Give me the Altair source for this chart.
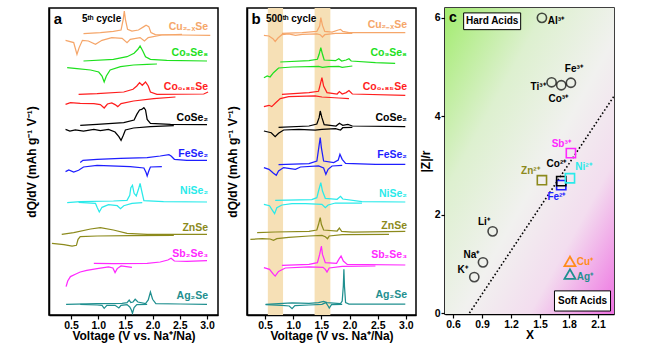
import altair as alt
import pandas as pd

FONT = "Liberation Sans"

# ---------------- panels a / b : dQ/dV curves ----------------
MATERIALS = ["Cu2-xSe", "Co9Se8", "Co0.85Se", "CoSe2", "FeSe2", "NiSe2", "ZnSe", "Sb2Se3", "Ag2Se"]
LABELS = ["Cu₂₋ₓSe", "Co₉Se₈", "Co₀.₈₅Se", "CoSe₂", "FeSe₂", "NiSe₂", "ZnSe", "Sb₂Se₃", "Ag₂Se"]
COLORS = ["#F5A66A", "#1EE01E", "#FF1E1E", "#000000", "#1E1EFF", "#2AEAEA", "#8C8A1C", "#FF28FF", "#1F8F8F"]
A_OFFSETS = [279.7, 254, 220.7, 190.3, 154.7, 113, 80.7, 51.7, 10.7]
B_OFFSETS = [282.3, 253, 220.7, 189, 150.7, 114, 83, 50.3, 10.7]
A_LABEL_DY = [8.3, 8, 7.3, 6.7, 6.3, 11, 6.3, 9.3, 8.3]
B_LABEL_DY = [7.7, 8.7, 7.6, 8.3, 9, 6.7, 6, 9.7, 9]
BANDS_LO = [0.55, 1.38]
BANDS_HI = [0.82, 1.66]
X_TICKS_AB = [0.5, 1.0, 1.5, 2.0, 2.5, 3.0]

# 5th cycle (voltage, dQ/dV relative to baseline)
a_cu_chg = [(0.73,1.7),(1.04,2.7),(1.28,4),(1.42,5.3),(1.46,16),(1.48,24.3),(1.50,16),(1.54,6),(1.62,4.3),(1.74,5.3),(1.84,8.7),(1.88,10),(1.93,8.7),(1.97,2.7),(2.05,0.7),(2.51,0.3),(3.06,0)]
a_cu_dis = [(0.40,-5),(0.55,-7.3),(0.61,-19),(0.65,-12.3),(0.71,-5),(0.82,-5.7),(0.95,-9),(1.07,-5),(1.25,-2.3),(1.44,-3),(1.53,-7.3),(1.59,-4),(1.77,-2.3),(1.85,-5.7),(1.92,-2.3),(2.17,0.3),(2.54,1)]
a_co9_chg = [(0.73,0),(1.28,1.7),(1.53,4.3),(1.66,7.7),(1.73,11.7),(1.77,15),(1.82,10),(1.87,4.3),(1.96,1.7),(2.26,0.7),(3.00,0)]
a_co9_dis = [(0.43,-6.7),(0.61,-7.7),(0.86,-9),(1.01,-11),(1.07,-15),(1.11,-21),(1.15,-15),(1.22,-9),(1.41,-5.7),(1.65,-4),(1.90,-3.3),(2.08,-3)]
a_co085_chg = [(0.64,0),(0.98,0.7),(1.47,2.3),(1.64,5),(1.71,8.3),(1.76,11.7),(1.81,9),(1.87,12.3),(1.92,8.3),(1.96,2.3),(2.08,0),(2.94,0.3),(3.02,2.3)]
a_co085_dis = [(0.40,-10),(0.49,-8.3),(0.67,-9),(0.92,-9.3),(1.04,-10.3),(1.11,-13.7),(1.17,-9.7),(1.25,-8.7),(1.31,-10.3),(1.36,-12.3),(1.42,-9.3),(1.65,-6.7),(2.02,-4.3),(2.42,-2.7)]
a_cose2_chg = [(0.67,-0.7),(0.98,0.3),(1.47,2),(1.66,4.7),(1.71,10.3),(1.76,14.7),(1.80,15.3),(1.84,17),(1.87,14.7),(1.90,5.3),(1.96,1.3),(2.33,0.3),(3.00,0)]
a_cose2_dis = [(0.40,-4.7),(0.48,-6.3),(0.58,-5.3),(0.73,-6.3),(0.92,-4.7),(1.04,-6),(1.19,-4.7),(1.31,-7.3),(1.38,-12),(1.42,-15.7),(1.46,-10.7),(1.50,-5.3),(1.65,-3.3),(1.96,-2),(2.39,-1)]
a_fese2_chg = [(0.67,-2.3),(0.72,0),(0.98,1),(1.41,2),(1.90,2.7),(2.14,4.3),(2.30,5.7),(2.34,4.3),(2.40,1),(2.63,0),(3.00,0)]
a_fese2_dis = [(0.40,-11.3),(0.46,-9.7),(0.55,-11.7),(0.64,-10),(0.73,-6.7),(0.98,-5),(1.59,-6.3),(1.84,-7.7),(1.88,-12.3),(1.90,-15.7),(1.93,-10.7),(1.96,-6.7),(2.17,-6.3)]
a_nise2_chg = [(0.43,-0.7),(0.67,0.3),(1.28,1),(1.53,1.7),(1.58,6.7),(1.60,14.3),(1.63,16.7),(1.66,8.7),(1.70,6),(1.74,12.7),(1.77,18.7),(1.80,11),(1.84,1.3),(2.20,0.3),(3.00,0)]
a_nise2_dis = [(0.64,-0.3),(0.95,-1.3),(0.98,-5.3),(1.02,-10),(1.07,-5.3),(1.19,-2.7),(1.35,-3.7),(1.41,-6.7),(1.47,-3.7),(1.62,-1.3),(1.81,-0.7)]
a_znse_chg = [(0.33,0),(0.55,1.7),(0.86,5.3),(1.04,6.7),(1.28,4.3),(1.53,1),(1.90,0),(3.00,0)]
a_znse_dis = [(0.15,-9),(0.37,-10.3),(0.52,-11.7),(0.60,-11),(0.63,-5),(0.67,-2.3),(0.98,-1.7),(1.59,-1.3),(2.39,-1)]
a_sb_chg = [(0.92,0),(1.28,-0.3),(1.90,0),(2.14,1.3),(2.28,3.3),(2.34,5),(2.40,2.3),(2.63,2),(3.00,2.7)]
a_sb_dis = [(0.41,-23.3),(0.44,-17.7),(0.49,-13.3),(0.58,-11),(0.67,-8.7),(0.79,-7),(0.98,-5.3),(1.19,-3.7),(1.27,-4.7),(1.31,-9.3),(1.35,-5.3),(1.42,-2.7),(1.62,-4)]
a_ag_chg = [(0.41,0),(0.98,0.7),(1.44,1),(1.53,1.7),(1.57,4.3),(1.60,1.7),(1.64,2.3),(1.68,5),(1.73,2.3),(1.87,0.7),(1.92,4.3),(1.96,12.3),(2.00,5),(2.06,0.7),(2.51,0.3),(3.00,0)]
a_ag_dis = [(0.67,0),(0.98,-0.7),(1.07,-1),(1.11,-4),(1.16,-1),(1.31,-1),(1.38,-3.7),(1.42,-1),(1.53,-0.3),(1.58,-2.7),(1.61,-5.7),(1.63,-9),(1.66,-3.3),(1.71,-0.3),(1.90,0)]

# 500th cycle
b_cu_chg = [(0.80,-0.7),(1.16,0),(1.42,1.3),(1.47,6.7),(1.49,15),(1.52,7.3),(1.56,1.3),(1.69,0.7),(1.80,2.7),(1.84,3.3),(1.88,1.3),(1.99,0),(2.99,0)]
b_cu_dis = [(0.48,-2.7),(0.57,-3.3),(0.64,-6),(0.68,-8.7),(0.73,-5.3),(0.80,-2),(0.92,-1.3),(1.04,-2.7),(1.16,-1.7),(1.42,-1.3),(1.48,-2),(1.52,-4.3),(1.56,-2),(1.75,-0.7),(2.05,-0.7)]
b_co9_chg = [(0.77,0),(1.28,1.3),(1.43,2.7),(1.46,7.7),(1.49,14.3),(1.52,7.7),(1.55,2),(1.75,1.3),(1.81,3.3),(1.86,1),(1.94,2),(1.99,3.3),(2.03,1),(2.46,-0.7),(2.81,-1.3)]
b_co9_dis = [(0.48,-15.7),(0.54,-14),(0.59,-15),(0.65,-10.7),(0.74,-6),(0.98,-5),(1.45,-4.3),(1.52,-5.3),(1.63,-4.7),(1.81,-4.3),(1.87,-5.3),(2.05,-4)]
b_co085_chg = [(0.80,0),(1.28,1.7),(1.45,3),(1.48,9.7),(1.51,16.7),(1.54,8.3),(1.60,1.7),(1.78,0.3),(1.82,2.7),(1.87,0.3),(1.94,1.7),(1.99,3.7),(2.05,0.3),(2.99,-1)]
b_co085_dis = [(0.48,-12.3),(0.57,-11),(0.62,-12.3),(0.68,-9),(0.77,-4.3),(0.92,-2.3),(1.39,-1.7),(1.51,-2.7),(1.81,-3.7),(1.99,-4.3)]
b_cose2_chg = [(0.74,-1.3),(1.28,0),(1.42,2),(1.46,8.3),(1.48,15),(1.51,8.3),(1.55,1.3),(1.76,0),(1.82,2.7),(1.88,0.7),(1.97,1.7),(2.05,0),(2.99,-0.7)]
b_cose2_dis = [(0.48,-5),(0.61,-6.7),(0.68,-10.7),(0.74,-7.3),(0.83,-4),(1.10,-3.3),(1.39,-4),(1.51,-3.3),(1.75,-2.7),(1.84,-4),(1.88,-1.7),(2.05,-1.3)]
b_fese2_chg = [(0.74,-0.3),(1.28,0.7),(1.42,3.3),(1.45,15),(1.48,26.7),(1.50,16.7),(1.54,3.3),(1.72,1.7),(1.80,4.3),(1.83,10),(1.87,5),(1.93,1),(2.46,0),(2.99,0)]
b_fese2_dis = [(0.48,-3.3),(0.57,-5),(0.65,-9),(0.70,-11),(0.74,-6.7),(0.83,-3.3),(0.95,-4.3),(1.04,-5),(1.13,-2.7),(1.45,-1.7),(1.54,-3.7),(1.58,-10),(1.62,-5),(1.69,-1.7),(1.87,-1)]
b_nise2_chg = [(0.68,0.7),(1.33,1.3),(1.42,3.3),(1.45,10),(1.49,18.3),(1.52,10),(1.57,2.7),(1.78,1.7),(1.84,4.7),(1.88,2),(2.22,-0.7),(2.99,-1)]
b_nise2_dis = [(0.48,-3.3),(0.58,-4.7),(0.62,-8.3),(0.67,-12.7),(0.71,-6.7),(0.80,-4),(0.98,-2.7),(1.22,-2.7),(1.51,-3.3),(1.57,-6.7),(1.62,-4),(1.75,-2),(2.22,-2)]
b_znse_chg = [(0.36,-0.7),(0.68,0),(1.28,0.7),(1.42,2),(1.45,7.7),(1.48,14.3),(1.50,7.7),(1.54,2),(1.78,1),(1.82,4),(1.86,0.7),(2.05,0),(2.99,0.7)]
b_znse_dis = [(0.24,-7.3),(0.45,-6.7),(0.59,-7),(0.65,-8.3),(0.71,-6.7),(0.92,-5.3),(1.28,-4),(1.51,-3.3),(1.57,-4.7),(1.61,-6.7),(1.64,-4),(1.87,-2.7),(2.70,-2.3)]
b_sb_chg = [(0.80,-0.7),(1.28,0.3),(1.43,2),(1.47,10.3),(1.50,18.7),(1.52,10.3),(1.57,2),(1.77,1.3),(1.81,5.3),(1.85,8.7),(1.89,3.7),(1.96,0.3),(2.99,-0.3)]
b_sb_dis = [(0.48,-3),(0.58,-4.7),(0.65,-9.7),(0.68,-11.3),(0.74,-6.7),(0.86,-3.3),(1.28,-2.3),(1.53,-2.7),(1.57,-4.7),(1.60,-7.3),(1.64,-3.3),(1.87,-1.7),(2.46,-1.3)]
b_ag_chg = [(0.51,0),(0.98,1.3),(1.28,1),(1.45,1.7),(1.54,3),(1.60,1.7),(1.84,0.7),(1.87,3.3),(1.89,18.3),(1.90,35),(1.91,18.3),(1.93,1.7),(1.99,0.3),(2.99,0.3)]
b_ag_dis = [(0.51,-0.3),(0.80,-1),(0.93,-1.7),(0.98,-4.3),(1.03,-1.3),(1.28,-0.7),(1.51,0),(1.58,1.7),(1.62,-1.7),(1.64,-3.7),(1.68,-0.3),(1.87,0)]

# ---------------- panel c : HSAB map ----------------
CIRC_IONS = ["Al³⁺", "Ti³⁺", "Co³⁺", "Fe³⁺", "Li⁺", "Na⁺", "K⁺"]
CIRC_X = [1.52, 1.62, 1.72, 1.82, 1.01, 0.91, 0.82]
CIRC_Y = [6.0, 4.69, 4.63, 4.68, 1.66, 1.03, 0.73]
SQ_IONS = ["Zn²⁺", "Fe²⁺", "Co²⁺", "Ni²⁺", "Sb³⁺"]
SQ_X = [1.52, 1.72, 1.72, 1.81, 1.82]
SQ_Y = [2.70, 2.60, 2.68, 2.74, 3.25]
SQ_COLORS = ["#8C8A1C", "#1E1EFF", "#000000", "#2AEAEA", "#FF28FF"]
TRI_IONS = ["Cu⁺", "Ag⁺"]
TRI_X = [1.81, 1.81]
TRI_Y = [1.05, 0.79]
TRI_COLORS = ["#FF8C1A", "#1F8F8F"]
LAB_TEXT = ["Al³⁺", "Ti³⁺", "Co³⁺", "Fe³⁺", "Li⁺", "Na⁺", "K⁺", "Zn²⁺", "Fe²⁺", "Co²⁺", "Ni²⁺", "Sb³⁺", "Cu⁺", "Ag⁺"]
LAB_X = [1.665, 1.48, 1.69, 1.85, 0.92, 0.79, 0.70, 1.40, 1.67, 1.67, 1.95, 1.72, 1.965, 1.965]
LAB_Y = [5.94, 4.60, 4.36, 4.97, 1.85, 1.18, 0.87, 2.88, 2.35, 3.02, 2.96, 3.43, 1.03, 0.73]
LAB_COLOR = ["#000000"] * 7 + ["#8C8A1C", "#1E1EFF", "#000000", "#2AEAEA", "#FF28FF", "#FF8C1A", "#1F8F8F"]
DIVIDER_X = [0.77, 2.27]
DIVIDER_Y = [0.0, 4.42]
BOX_TEXT = ["Hard Acids", "Soft Acids"]
BOX_X1 = [0.71, 1.65]
BOX_X2 = [1.30, 2.23]
BOX_Y1 = [5.76, 0.04]
BOX_Y2 = [6.10, 0.45]
X_TICKS_C = [0.6, 0.9, 1.2, 1.5, 1.8, 2.1]
Y_TICKS_C = [0.0001, 2, 4, 6]

A_CURVES = {"Cu2-xSe": (a_cu_chg, a_cu_dis), "Co9Se8": (a_co9_chg, a_co9_dis), "Co0.85Se": (a_co085_chg, a_co085_dis),
            "CoSe2": (a_cose2_chg, a_cose2_dis), "FeSe2": (a_fese2_chg, a_fese2_dis), "NiSe2": (a_nise2_chg, a_nise2_dis),
            "ZnSe": (a_znse_chg, a_znse_dis), "Sb2Se3": (a_sb_chg, a_sb_dis), "Ag2Se": (a_ag_chg, a_ag_dis)}
B_CURVES = {"Cu2-xSe": (b_cu_chg, b_cu_dis), "Co9Se8": (b_co9_chg, b_co9_dis), "Co0.85Se": (b_co085_chg, b_co085_dis),
            "CoSe2": (b_cose2_chg, b_cose2_dis), "FeSe2": (b_fese2_chg, b_fese2_dis), "NiSe2": (b_nise2_chg, b_nise2_dis),
            "ZnSe": (b_znse_chg, b_znse_dis), "Sb2Se3": (b_sb_chg, b_sb_dis), "Ag2Se": (b_ag_chg, b_ag_dis)}

H_AB = 307
W = 169
color_scale = alt.Scale(domain=MATERIALS, range=COLORS)


def curve_frame(curves, offsets):
    rows = []
    for m, off in zip(MATERIALS, offsets):
        for branch, pts in zip(("chg", "dis"), curves[m]):
            for i, (v, d) in enumerate(pts):
                rows.append({"mat": m, "key": m + branch, "idx": i, "V": v, "y": off + d})
    return pd.DataFrame(rows)


def label_frame(offsets, dys):
    return pd.DataFrame({"mat": MATERIALS, "lab": LABELS, "V": [3.02] * len(MATERIALS),
                         "y": [o + d for o, d in zip(offsets, dys)]})


def text_at(t, px, py, size, align="left"):
    return alt.Chart(pd.DataFrame({"t": [t]})).mark_text(
        font=FONT, fontWeight="bold", fontSize=size, align=align, baseline="middle", color="black"
    ).encode(text="t:N", x=alt.value(px), y=alt.value(py))


def cv_panel(curves, offsets, dys, xdom, letter, cycle, cycle_x, title_pad, bands=False):
    xs = alt.Scale(domain=xdom, nice=False, zero=False)
    ys = alt.Scale(domain=[0, H_AB], nice=False, zero=False)
    xax = alt.Axis(values=X_TICKS_AB, format=".1f", title="Voltage (V vs. Na⁺/Na)", grid=False, tickSize=4,
                   labelOverlap=False)
    yax = alt.Axis(labels=False, ticks=False, grid=False, title="dQ/dV (mAh g⁻¹ V⁻¹)", titlePadding=title_pad)
    layers = []
    if bands:
        layers.append(alt.Chart(pd.DataFrame({"lo": BANDS_LO, "hi": BANDS_HI})).mark_rect(color="#F6E0B6").encode(
            x=alt.X("lo:Q", scale=xs, axis=xax), x2="hi:Q", y=alt.value(0), y2=alt.value(H_AB)))
    layers.append(alt.Chart(curve_frame(curves, offsets)).mark_line(strokeWidth=1.25, clip=True).encode(
        x=alt.X("V:Q", scale=xs, axis=xax),
        y=alt.Y("y:Q", scale=ys, axis=yax),
        color=alt.Color("mat:N", scale=color_scale, legend=None),
        detail="key:N", order="idx:Q"))
    layers.append(alt.Chart(label_frame(offsets, dys)).mark_text(
        font=FONT, fontWeight="bold", fontSize=10.5, align="right", baseline="middle").encode(
        x=alt.X("V:Q", scale=xs, axis=xax), y=alt.Y("y:Q", scale=ys, axis=yax), text="lab:N",
        color=alt.Color("mat:N", scale=color_scale, legend=None)))
    layers.append(text_at(letter, 9, 11, 15, "center"))
    layers.append(text_at(cycle, cycle_x, 11, 10))
    return alt.layer(*layers).properties(width=W, height=H_AB)


panel_a = cv_panel(A_CURVES, A_OFFSETS, A_LABEL_DY, [0.096, 3.202], "a", "5ᵗʰ cycle", 33, 11)
panel_b = cv_panel(B_CURVES, B_OFFSETS, B_LABEL_DY, [0.18, 3.18], "b", "500ᵗʰ cycle", 19, 8, bands=True)

# ---- panel c ----
H_C = 306
xs_c = alt.Scale(domain=[0.517, 2.266], nice=False, zero=False)
ys_c = alt.Scale(domain=[-0.02, 6.2], nice=False, zero=False)
xax_c = alt.Axis(values=X_TICKS_C, format=".1f", title="X", grid=False, tickSize=4, labelOverlap=False)
yax_c = alt.Axis(values=Y_TICKS_C, format=".0f", title="|Z|/r", grid=False, tickSize=4, titlePadding=2,
                 labelOverlap=False, labelBound=False, labelFlush=False)

grad = alt.LinearGradient(gradient="linear", x1=0, y1=0, x2=1, y2=1, stops=[
    alt.GradientStop(offset=0, color="#A2EC6E"),
    alt.GradientStop(offset=0.3, color="#DDF0CF"),
    alt.GradientStop(offset=0.55, color="#F1F1EF"),
    alt.GradientStop(offset=0.75, color="#F3DDEF"),
    alt.GradientStop(offset=1, color="#EE72E2")])
bg = alt.Chart(pd.DataFrame({"a": [0]})).mark_rect(fill=grad).encode(
    x=alt.value(0), x2=alt.value(W), y=alt.value(0), y2=alt.value(H_C))

def cx(field):
    return alt.X(field, scale=xs_c, axis=xax_c)

def cy(field):
    return alt.Y(field, scale=ys_c, axis=yax_c)

divider = alt.Chart(pd.DataFrame({"x": DIVIDER_X, "y": DIVIDER_Y})).mark_line(
    color="black", strokeWidth=1.6, strokeDash=[1.6, 2.2], clip=True).encode(x=cx("x:Q"), y=cy("y:Q"))

circles = alt.Chart(pd.DataFrame({"ion": CIRC_IONS, "x": CIRC_X, "y": CIRC_Y})).mark_point(
    shape="circle", size=85, strokeWidth=1.6, color="black", filled=False).encode(x=cx("x:Q"), y=cy("y:Q"))
squares = alt.Chart(pd.DataFrame({"ion": SQ_IONS, "x": SQ_X, "y": SQ_Y, "c": SQ_COLORS})).mark_point(
    shape="square", size=85, strokeWidth=1.6, filled=False, opacity=1).encode(
    x=cx("x:Q"), y=cy("y:Q"), color=alt.Color("c:N", scale=None))
tris = alt.Chart(pd.DataFrame({"ion": TRI_IONS, "x": TRI_X, "y": TRI_Y, "c": TRI_COLORS})).mark_point(
    shape="triangle-up", size=120, strokeWidth=1.8, filled=False, opacity=1).encode(
    x=cx("x:Q"), y=cy("y:Q"), color=alt.Color("c:N", scale=None))
ion_labels = alt.Chart(pd.DataFrame({"t": LAB_TEXT, "x": LAB_X, "y": LAB_Y, "c": LAB_COLOR})).mark_text(
    font=FONT, fontWeight="bold", fontSize=10, align="center", baseline="middle").encode(
    x=cx("x:Q"), y=cy("y:Q"), text="t:N", color=alt.Color("c:N", scale=None))
boxes_df = pd.DataFrame({"t": BOX_TEXT, "x1": BOX_X1, "x2": BOX_X2, "y1": BOX_Y1, "y2": BOX_Y2})
boxes_df["xm"] = (boxes_df.x1 + boxes_df.x2) / 2
boxes_df["ym"] = (boxes_df.y1 + boxes_df.y2) / 2
boxes = alt.Chart(boxes_df).mark_rect(fill="white", stroke="black", strokeWidth=1).encode(
    x=cx("x1:Q"), x2="x2:Q", y=cy("y1:Q"), y2="y2:Q")
box_text = alt.Chart(boxes_df).mark_text(font=FONT, fontWeight="bold", fontSize=10, color="black").encode(
    x=cx("xm:Q"), y=cy("ym:Q"), text="t:N")

panel_c = alt.layer(bg, divider, circles, squares, tris, ion_labels, boxes, box_text,
                    text_at("c", 8, 10, 14, "center")).properties(width=W, height=H_C)

chart = alt.hconcat(panel_a, panel_b, panel_c, spacing=29, bounds="flush").resolve_scale(
    x="independent", y="independent").properties(
    padding={"left": 24, "top": 7, "right": 5, "bottom": 5}, background="white"
).configure_view(stroke="black", strokeWidth=1.5).configure_axis(
    labelFont=FONT, titleFont=FONT, labelFontWeight="bold", titleFontWeight="bold",
    labelFontSize=10.5, titleFontSize=12, labelColor="black", titleColor="black",
    domainColor="black", domainWidth=1.5, tickColor="black", tickWidth=1.2, labelPadding=1, titlePadding=0,
    labelOverlap=False, labelBound=False, labelFlush=False)

chart.save("out.html", embed_options={"renderer": "svg", "actions": False})
